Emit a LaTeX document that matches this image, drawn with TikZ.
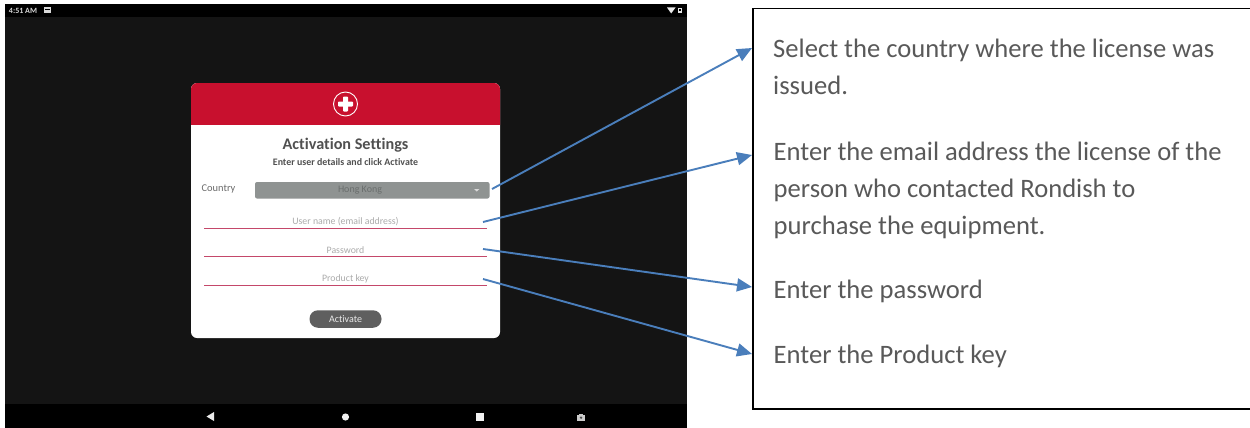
\documentclass[tikz,border=0pt]{standalone}
\usepackage{fontspec}
\setmainfont[Ligatures=NoCommon]{Carlito}
\usetikzlibrary{arrows.meta}
\definecolor{screenbg}{HTML}{141414}
\definecolor{cardred}{HTML}{C8102E}
\definecolor{darktxt}{HTML}{505050}
\definecolor{hinttxt}{HTML}{ABABAB}
\definecolor{combo}{HTML}{8F9392}
\definecolor{combotxt}{HTML}{6A6E6D}
\definecolor{rule}{HTML}{C4486A}
\definecolor{btn}{HTML}{5F5F5F}
\definecolor{note}{HTML}{595959}
\definecolor{arrowblue}{HTML}{4A7EBB}
\tikzset{
  x=1pt,y=-1pt,
  notetxt/.style={anchor=base west,inner sep=0pt,text=note,font=\fontsize{26.6}{30}\selectfont},
  callout/.style={draw=arrowblue,line width=1.9pt,-{Triangle[length=15pt,width=13pt]},shorten >=0pt},
  hint/.style={inner sep=0pt,text=hinttxt,font=\fontsize{9.8}{12}\selectfont},
  fieldrule/.style={draw=rule,line width=1.1pt},
}
\begin{document}
\begin{tikzpicture}
\useasboundingbox (0,0) rectangle (1250,428);
\fill[white] (0,0) rectangle (1250,428);
% screen
\fill[screenbg] (5,4) rectangle (687,428);
\fill[black] (5,4) rectangle (687,17);
\fill[black] (5,404) rectangle (687,428);
\node[inner sep=0pt,text=white!85!black,font=\bfseries\fontsize{8}{9}\selectfont] (clock) at (23,10.5) {4:51 AM};
\fill[white!85!black] (44,7.5) rectangle (51,13.5);
\fill[black] (45,8.8) rectangle (50,10.5);
\fill[white!92!black] (667,7.5) -- (675.5,7.5) -- (671.2,13.5) -- cycle;
\fill[white!90!black] (678,8) rectangle (682,13.5);
\fill[black] (679,9.5) rectangle (681,11);
% nav bar
\fill[white!92!black] (214,412) -- (214,421) -- (206.5,416.5) -- cycle;
\fill[white!95!black] (345.5,417) circle (3.6);
\fill[white!95!black] (475.5,413) rectangle (483.5,421);
\fill[white!80!black] (577,414.5) rectangle (585,421);
\fill[white!80!black] (579,413.5) rectangle (583,415);
\fill[black!70!white] (581,417.7) circle (1.3);
% card
\fill[white] (191,83) [rounded corners=6pt] rectangle (500,338);
\begin{scope}
\clip (185,75) rectangle (505,124.5);
\fill[cardred,rounded corners=6pt] (191,83) rectangle (500,150);
\end{scope}
\draw[white,line width=0.9pt] (345.5,104) circle (12);
\fill[white,rounded corners=0.8pt] (343,96.5) rectangle (348,111.5);
\fill[white,rounded corners=0.8pt] (338,101.5) rectangle (353,106.5);
\node[inner sep=0pt,text=darktxt,font=\bfseries\fontsize{16.2}{18}\selectfont] (title) at (345.5,145) {Activation Settings};
\node[inner sep=0pt,text=darktxt,font=\bfseries\fontsize{9.9}{12}\selectfont] (subtitle) at (345.5,162.5) {Enter user details and click Activate};
\node[anchor=west,inner sep=0pt,text=darktxt!85!white,font=\fontsize{10.4}{13}\selectfont] (country) at (201.5,189) {Country};
\fill[combo,rounded corners=2pt] (255,182) rectangle (489.5,198.5);
\node[inner sep=0pt,text=combotxt,font=\fontsize{10}{12}\selectfont] (hk) at (360,190.5) {Hong Kong};
\fill[white!85!black] (474,189) -- (479.5,189) -- (476.75,191.5) -- cycle;
\node[hint] (user) at (345.5,221.5) {User name (email address)};
\node[hint] (pass) at (345.5,250) {Password};
\node[hint] (key) at (345.5,279) {Product key};
\draw[fieldrule] (204,228.2) -- (487,228.2);
\draw[fieldrule] (204,256.7) -- (487,256.7);
\draw[fieldrule] (204,285.5) -- (487,285.5);
\node[fill=btn,rounded corners=8.5pt,minimum width=72pt,minimum height=17.5pt,inner sep=0pt,text=white!92!black,font=\fontsize{10}{12}\selectfont] (activate) at (345.5,319) {Activate};
% notes box
\node[draw=black,line width=1.5pt,fill=white,minimum width=497.5pt,minimum height=400pt,inner sep=0pt,anchor=north west] (notes) at (752,8) {};
\node[notetxt] (n1) at (773,58) {Select the country where the license was};
\node[notetxt] (n1b) at (773,95) {issued.};
\node[notetxt] (n2) at (773.5,160) {Enter the email address the license of the};
\node[notetxt] (n2b) at (773.5,197) {person who contacted Rondish to};
\node[notetxt] (n2c) at (773.5,234) {purchase the equipment.};
\node[notetxt] (n3) at (773.5,298) {Enter the password};
\node[notetxt] (n4) at (773.5,363) {Enter the Product key};
% connectors
\coordinate (s1) at (492,189); \coordinate (t1) at (752,48);
\coordinate (s2) at (483,222); \coordinate (t2) at (752,155);
\coordinate (s3) at (483,249); \coordinate (t3) at (752,287);
\coordinate (s4) at (483,279); \coordinate (t4) at (752,354);
\draw[callout] (s1) -- (t1);
\draw[callout] (s2) -- (t2);
\draw[callout] (s3) -- (t3);
\draw[callout] (s4) -- (t4);
\end{tikzpicture}
\end{document}
